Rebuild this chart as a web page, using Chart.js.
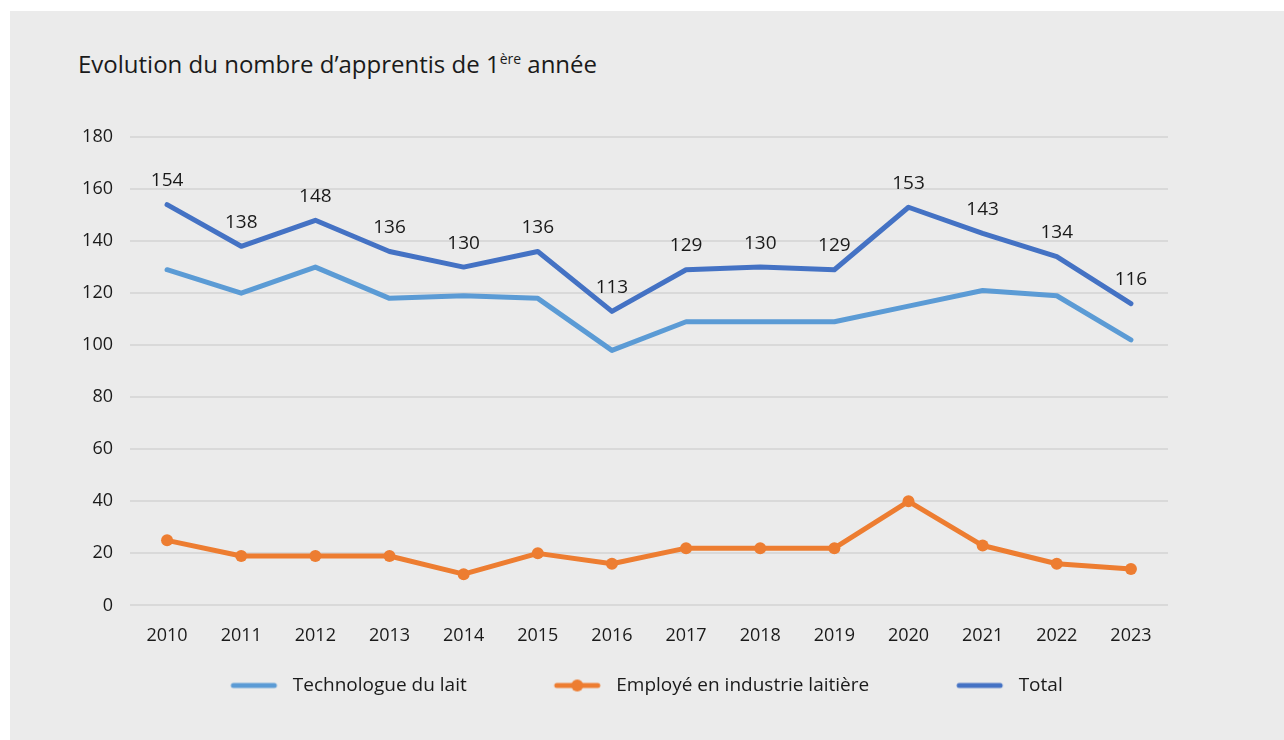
<!DOCTYPE html>
<html lang="fr">
<head>
<meta charset="utf-8">
<script src="https://cdn.jsdelivr.net/npm/chart.js@4"></script>
<style>
  html, body { margin: 0; padding: 0; background: #ffffff; }
  #panel { position: absolute; left: 10px; top: 11px; width: 1274px; height: 729px; background: #ebebeb; }
  #title { position: absolute; left: 68px; top: 41px; margin: 0; font-weight: normal; font: 24px/24px "Open Sans", sans-serif; color: #1a1a1a; white-space: nowrap; }
  #title sup { font-size: 14px; vertical-align: 9px; line-height: 0; }
  #chart { position: absolute; left: 0; top: 0; }
</style>
</head>
<body>
<div id="panel">
  <h1 id="title">Evolution du nombre d’apprentis de 1<sup>ère</sup> année</h1>
  <canvas id="chart" width="1274" height="729"></canvas>
</div>
<script>
const years = ["2010", "2011", "2012", "2013", "2014", "2015", "2016", "2017", "2018", "2019", "2020", "2021", "2022", "2023"];
const technologue = [129, 120, 130, 118, 119, 118, 98, 109, 109, 109, 115, 121, 119, 102];
const employe = [25, 19, 19, 19, 12, 20, 16, 22, 22, 22, 40, 23, 16, 14];
const total = [154, 138, 148, 136, 130, 136, 113, 129, 130, 129, 153, 143, 134, 116];
const yTicks = [0, 20, 40, 60, 80, 100, 120, 140, 160, 180];

/* color palette */
const colors = ["#5b9bd5", "#ed7d31", "#4472c4"];
const font = "'Open Sans', sans-serif";

// legend swatches: a short thick line, the orange one with a dot
function swatch(color, dot) {
    const c = document.createElement('canvas');
    c.width = 112;
    c.height = 14;
    const g = c.getContext('2d');
    g.strokeStyle = color;
    g.lineWidth = 5;
    g.lineCap = 'round';
    g.beginPath();
    g.moveTo(62, 7);
    g.lineTo(103, 7);
    g.stroke();
    if (dot) {
        g.fillStyle = color;
        g.beginPath();
        g.arc(82.5, 7, 6, 0, Math.PI * 2);
        g.fill();
    }
    return c;
}
const swatches = [swatch(colors[0], false), swatch(colors[1], true), swatch(colors[2], false)];

// value labels above the Total line
const totalLabels = {
    id: 'totalLabels',
    afterDatasetsDraw(chart) {
        const ctx = chart.ctx;
        const meta = chart.getDatasetMeta(2);
        ctx.save();
        ctx.font = "19px " + font;
        ctx.fillStyle = '#1a1a1a';
        ctx.textAlign = 'center';
        ctx.textBaseline = 'middle';
        meta.data.forEach((pt, i) => {
            ctx.fillText(String(total[i]), pt.x, pt.y - 24);
        });
        ctx.restore();
    }
};

const config = {
    type: 'line',
    data: {
        labels: years,
        datasets: [
            {
                label: 'Technologue du lait',
                data: technologue,
                borderColor: colors[0],
                backgroundColor: colors[0],
                borderWidth: 5,
                pointRadius: 0,
                borderJoinStyle: 'round',
                borderCapStyle: 'round',
                fill: false
            },
            {
                label: 'Employé en industrie laitière',
                data: employe,
                borderColor: colors[1],
                backgroundColor: colors[1],
                borderWidth: 5,
                pointRadius: 6,
                pointBorderWidth: 0,
                pointBackgroundColor: colors[1],
                borderJoinStyle: 'round',
                borderCapStyle: 'round',
                fill: false
            },
            {
                label: 'Total',
                data: total,
                borderColor: colors[2],
                backgroundColor: colors[2],
                borderWidth: 5,
                pointRadius: 0,
                borderJoinStyle: 'round',
                borderCapStyle: 'round',
                fill: false
            }
        ]
    },
    options: {
        responsive: false,
        animation: false,
        layout: {
            padding: { left: 56, right: 116, top: 126, bottom: 35 }
        },
        plugins: {
            title: { display: false },
            tooltip: { enabled: false },
            legend: {
                position: 'bottom',
                labels: {
                    usePointStyle: true,
                    pointStyleWidth: 112,
                    padding: 28,
                    color: '#1a1a1a',
                    font: { family: font, size: 19 },
                    generateLabels(chart) {
                        const items = Chart.defaults.plugins.legend.labels.generateLabels(chart);
                        items.forEach((it, i) => { it.pointStyle = swatches[i]; });
                        return items;
                    }
                }
            }
        },
        scales: {
            x: {
                offset: true,
                afterFit(scale) { scale.height = scale.height - 19; },
                grid: { display: false, drawTicks: false },
                border: { display: false },
                ticks: {
                    padding: 20,
                    color: '#1a1a1a',
                    font: { family: font, size: 18 }
                }
            },
            y: {
                min: yTicks[0],
                max: yTicks[yTicks.length - 1],
                afterFit(scale) { scale.width = 64; },
                afterBuildTicks(scale) { scale.ticks = yTicks.map(v => ({ value: v })); },
                grid: { color: '#d9d9d9', lineWidth: 2, drawTicks: false },
                border: { display: false },
                ticks: {
                    padding: 17,
                    color: '#1a1a1a',
                    font: { family: font, size: 18 }
                }
            }
        }
    },
    plugins: [totalLabels]
};

new Chart(document.getElementById('chart'), config);
</script>
</body>
</html>
